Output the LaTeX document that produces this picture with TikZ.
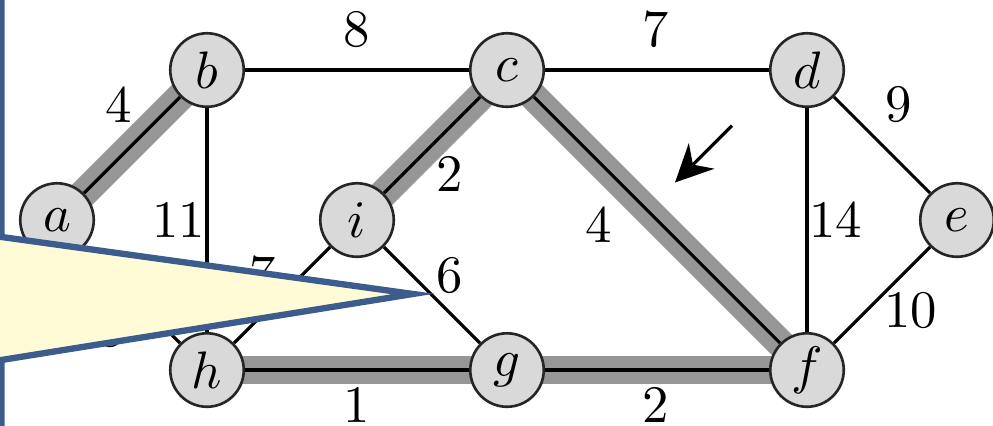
\documentclass[tikz,border=0pt]{standalone}
\usepackage{xcolor}
\usetikzlibrary{arrows.meta,backgrounds}

\definecolor{nodegray}{RGB}{217,217,217}
\definecolor{treegray}{RGB}{150,150,150}
\definecolor{notefill}{RGB}{255,251,215}
\definecolor{noteline}{RGB}{59,92,140}

\begin{document}
\begin{tikzpicture}[
  vertex/.style={circle, draw=black!85, fill=nodegray, line width=0.5pt, minimum size=0.49cm, inner sep=0pt, execute at begin node=$, execute at end node=$},
  edge/.style={line width=0.6pt},
  tree/.style={line width=5.4pt, treegray},
  weight/.style={inner sep=1pt},
  pointer/.style={-{Stealth[length=2.5mm,width=2.4mm]}, line width=0.6pt}
]
\clip (-0.38,1.467) rectangle (6.24,-1.373);
% vertices
\node[vertex] (a) at (0,0) {a};
\node[vertex] (b) at (1,1) {b};
\node[vertex] (c) at (3,1) {c};
\node[vertex] (d) at (5,1) {d};
\node[vertex] (e) at (6,0) {e};
\node[vertex] (f) at (5,-1) {f};
\node[vertex] (g) at (3,-1) {g};
\node[vertex] (h) at (1,-1) {h};
\node[vertex] (i) at (2,0) {i};
% edges
\begin{pgfonlayer}{background}
\foreach \u/\v in {a/b, c/i, c/f, h/g, g/f}
  \draw[tree] (\u.center) -- (\v.center);
\foreach \u/\v in {a/b, b/c, c/d, d/e, d/f, e/f, b/h, a/h, h/i, i/g, c/i, c/f, h/g, g/f}
  \draw[edge] (\u) -- (\v);
\end{pgfonlayer}
% weights
\node[weight] (w-ab) at (0.41,0.77) {4};
\node[weight] (w-bc) at (2.0,1.27) {8};
\node[weight] (w-cd) at (3.99,1.27) {7};
\node[weight] (w-de) at (5.61,0.77) {9};
\node[weight] (w-df) at (5.19,0) {14};
\node[weight] (w-ef) at (5.69,-0.6) {10};
\node[weight] (w-ci) at (2.62,0.31) {2};
\node[weight] (w-cf) at (3.61,-0.03) {4};
\node[weight] (w-ig) at (2.62,-0.37) {6};
\node[weight] (w-hg) at (2.0,-1.23) {1};
\node[weight] (w-gf) at (3.99,-1.23) {2};
\node[weight] (w-bh) at (0.81,0) {11};
\node[weight] (w-hi) at (1.37,-0.36) {7};
\node[weight] (w-ah) at (0.36,-0.73) {8};
% arrow
\coordinate (tail) at (4.5,0.63);
\coordinate (head) at (4.12,0.25);
\draw[pointer] (tail) -- (head);
% callout
\fill[notefill] (-0.6,1.6) -- (-0.37,1.6) -- (-0.37,-0.113) -- (2.373,-0.493)
  -- (-0.37,-0.933) -- (-0.37,-1.5) -- (-0.6,-1.5) -- cycle;
\draw[noteline, line width=1.2pt] (-0.37,1.6) -- (-0.37,-0.113) -- (2.373,-0.493)
  -- (-0.37,-0.933) -- (-0.37,-1.5);
\end{tikzpicture}
\end{document}
